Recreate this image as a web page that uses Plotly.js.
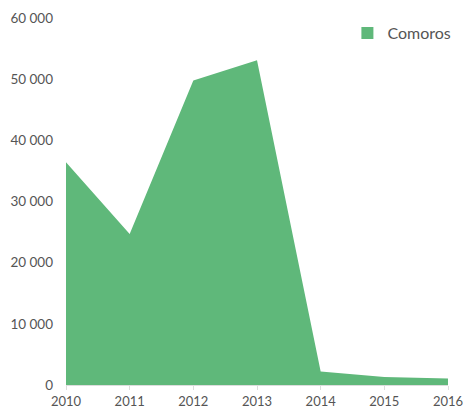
<!DOCTYPE html>
<html><head><meta charset="utf-8">
<script src="https://cdn.plot.ly/plotly-3.0.1.min.js"></script>
<style>html,body{margin:0;padding:0;background:#fff}#chart{width:463px;height:412px}</style>
</head><body><div id="chart"></div>
<script>
var years = [2010, 2011, 2012, 2013, 2014, 2015, 2016];
var comoros = [36400, 24700, 49800, 53100, 2200, 1300, 1050];
var seriesName = 'Comoros';
var yTicks = [0, 10000, 20000, 30000, 40000, 50000, 60000];
var green = '#5fb87a';

var area = {
  x: years, y: comoros, name: seriesName, type: 'scatter', mode: 'lines',
  fill: 'tozeroy', fillcolor: green, line: {color: green, width: 0},
  showlegend: false, legendgroup: 'c'
};
var legendItem = {
  x: [null], y: [null], name: seriesName, type: 'scatter', mode: 'markers',
  marker: {symbol: 'square', size: 12, color: green}, showlegend: true, legendgroup: 'c'
};
var layout = {
  width: 463, height: 412,
  margin: {l: 66, r: 15, t: 18, b: 27, autoexpand: false},
  paper_bgcolor: '#fff', plot_bgcolor: '#fff',
  separators: '. ',
  font: {family: 'Lato, "Open Sans", sans-serif', size: 13.5, color: '#555'},
  showlegend: true,
  legend: {x: 1.022, xanchor: 'right', y: 1.005, yanchor: 'top', font: {size: 16, color: '#555'}, bgcolor: 'rgba(0,0,0,0)', itemwidth: 30},
  xaxis: {range: [2010, 2016], tickvals: years, ticktext: years.map(String), showgrid: false, zeroline: false,
    showline: true, linecolor: '#ddd', linewidth: 1, ticks: 'outside', ticklen: 4, tickcolor: '#ddd',
    tickfont: {size: 13}, ticklabeloverflow: 'allow', fixedrange: true},
  yaxis: {range: [0, 60000], tickvals: yTicks, tickformat: ',d', showgrid: false, zeroline: false, showline: false,
    ticks: '', ticklabelstandoff: 12, fixedrange: true}
};
Plotly.newPlot('chart', [area, legendItem], layout, {displayModeBar: false, staticPlot: true});
</script></body></html>
